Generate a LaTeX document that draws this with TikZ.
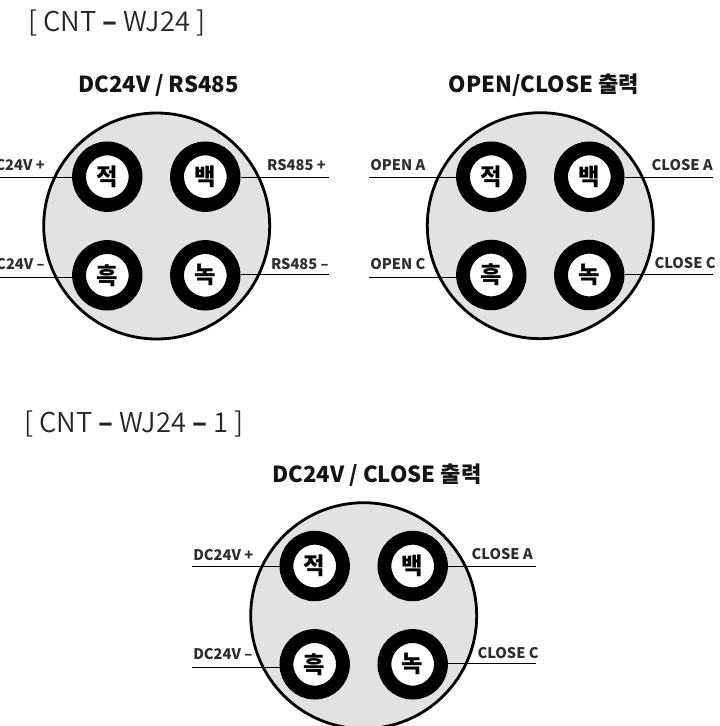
\documentclass[tikz,border=0pt]{standalone}
\usepackage{fontspec}
\setmainfont{Noto Sans CJK KR}
\newfontfamily\headfont{Noto Sans CJK KR DemiLight}
\newcommand{\headdash}{{\fontspec{Noto Sans CJK KR}\bfseries –}}
\newcommand{\labdash}{{\fontspec{Noto Sans CJK KR}\bfseries –}}
\definecolor{shellgray}{HTML}{E3E2E1}
\tikzset{
  x=0.75pt, y=-0.75pt,
  shell/.style={circle, draw=black, fill=shellgray, line width=2.1pt, minimum size=169.5pt, inner sep=0pt},
  pin/.style={circle, draw=black, fill=white, line width=10.4pt, minimum size=42.4pt, inner sep=0pt,
    font=\fontsize{17.5pt}{18pt}\selectfont\bfseries},
  wire/.style={draw=black, line width=0.75pt},
  lab/.style={inner sep=0pt, anchor=base, font=\fontsize{11pt}{12pt}\selectfont\bfseries, text=black!82},
  title/.style={inner sep=0pt, anchor=base, font=\fontsize{16.6pt}{18pt}\selectfont\bfseries, text=black!92},
  head/.style={inner sep=0pt, anchor=base west, font=\headfont\fontsize{20.5pt}{22pt}\selectfont, text=black!85},
}
\begin{document}
\begin{tikzpicture}
\useasboundingbox (0,0) rectangle (719,726);
\node[head] (h1) at (28,31) {[ CNT \headdash{} WJ24 ]};
\node[head] (h2) at (24,432) {[ CNT \headdash{} WJ24 \headdash{} 1 ]};

% ---------- connector 1
\node[title] (t1) at (158.5,92) {DC24V / RS485};
\node[shell] (s1) at (156.7,226) {};
\node[pin] (p1a) at (107.3,176.7) {적};
\node[pin] (p1b) at (205.3,176.7) {백};
\node[pin] (p1c) at (107.3,275.3) {흑};
\node[pin] (p1d) at (205.3,275.3) {녹};
\coordinate (w1a) at (-2,177.4);
\coordinate (w1b) at (329,177.4);
\coordinate (w1c) at (-2,277.4);
\coordinate (w1d) at (329,274.2);
\draw[wire] (w1a) -- (w1a -| p1a.west);
\draw[wire] (w1b) -- (w1b -| p1b.east);
\draw[wire] (w1c) -- (w1c -| p1c.west);
\draw[wire] (w1d) -- (w1d -| p1d.east);
\node[lab,anchor=base east] (l1a) at (45,170) {DC24V +};
\node[lab,anchor=base east] (l1b) at (326,170) {RS485 +};
\node[lab,anchor=base east] (l1c) at (45,269) {DC24V \labdash};
\node[lab,anchor=base east] (l1d) at (329,269) {RS485 \labdash};

% ---------- connector 2
\node[title] (t2) at (544,92) {OPEN/CLOSE 출력};
\node[shell] (s2) at (540.3,225.7) {};
\node[pin] (p2a) at (491.3,176.7) {적};
\node[pin] (p2b) at (589.3,176.7) {백};
\node[pin] (p2c) at (491.3,275) {흑};
\node[pin] (p2d) at (589.3,275) {녹};
\coordinate (w2a) at (369.3,177.4);
\coordinate (w2b) at (713.3,177.4);
\coordinate (w2c) at (369.3,277.4);
\coordinate (w2d) at (713.3,274.2);
\draw[wire] (w2a) -- (w2a -| p2a.west);
\draw[wire] (w2b) -- (w2b -| p2b.east);
\draw[wire] (w2c) -- (w2c -| p2c.west);
\draw[wire] (w2d) -- (w2d -| p2d.east);
\node[lab,anchor=base west] (l2a) at (370,170) {OPEN A};
\node[lab,anchor=base east] (l2b) at (713,170) {CLOSE A};
\node[lab,anchor=base west] (l2c) at (370,269) {OPEN C};
\node[lab,anchor=base east] (l2d) at (716,268) {CLOSE C};

% ---------- connector 3
\node[title] (t3) at (377,482) {DC24V / CLOSE 출력};
\node[shell] (s3) at (363.7,615.7) {};
\node[pin] (p3a) at (314.7,566) {적};
\node[pin] (p3b) at (412.7,566) {백};
\node[pin] (p3c) at (314.7,664.3) {흑};
\node[pin] (p3d) at (412.7,664.3) {녹};
\coordinate (w3a) at (192.3,566.7);
\coordinate (w3b) at (536,566.7);
\coordinate (w3c) at (192.3,667);
\coordinate (w3d) at (536,663.3);
\draw[wire] (w3a) -- (w3a -| p3a.west);
\draw[wire] (w3b) -- (w3b -| p3b.east);
\draw[wire] (w3c) -- (w3c -| p3c.west);
\draw[wire] (w3d) -- (w3d -| p3d.east);
\node[lab,anchor=base west] (l3a) at (193,560) {DC24V +};
\node[lab,anchor=base east] (l3b) at (533,559) {CLOSE A};
\node[lab,anchor=base west] (l3c) at (193,659) {DC24V \labdash};
\node[lab,anchor=base east] (l3d) at (539,658) {CLOSE C};
\end{tikzpicture}
\end{document}
